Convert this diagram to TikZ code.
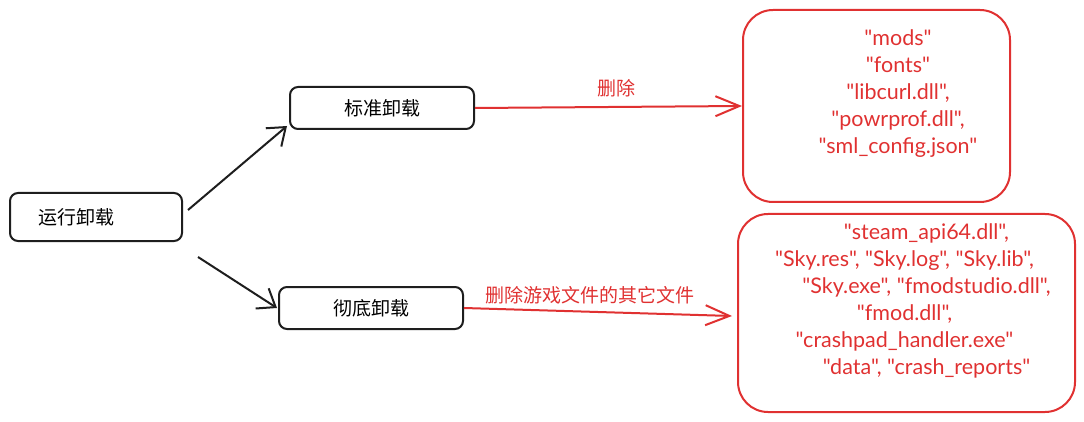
\documentclass[tikz,border=0pt]{standalone}
\usepackage{fontspec}
\setmainfont{Lato}
\newfontfamily\filefont{Lato}
\newfontfamily\cjk{Noto Sans CJK SC}
\usepackage{tikz}
\usetikzlibrary{arrows.meta,positioning,calc}
\definecolor{inkred}{HTML}{E03131}
\definecolor{inkblack}{HTML}{1E1E1E}
\newcommand{\fname}[1]{"#1"}

\begin{document}
\begin{tikzpicture}[x=1pt, y=1pt, line width=2pt]
    \tikzset{
        stepbox/.style={draw=inkblack, fill=white, rectangle, rounded corners=8pt, minimum height=42, align=center, font=\cjk\fontsize{19}{22}\selectfont},
        filebox/.style={draw=inkred, rectangle, rounded corners=30pt, text=inkred, font=\filefont\fontsize{21.5}{27}\selectfont},
        blackline/.style={draw=inkblack, -{Straight Barb[length=16pt, width=24pt, line width=2pt]}},
        redline/.style={draw=inkred, -{Straight Barb[length=24pt, width=20pt, line width=2pt]}},
        redlabel/.style={text=inkred, font=\cjk\fontsize{19}{22}\selectfont}
    }
    \useasboundingbox (0,0) rectangle (1084,-422);

    \node [stepbox, minimum width=172, minimum height=48, text width=116, inner xsep=28, align=left] (run) at (96,-217) {运行卸载};
    \node [stepbox, minimum width=184] (std) at (382,-108) {标准卸载};
    \node [stepbox, minimum width=184] (full) at (371,-308) {彻底卸载};

    \node [filebox, minimum width=267, minimum height=192] (keep1) at (876.5,-106)
        {\hspace*{43pt}\raisebox{0pt}[0pt][14pt]{\begin{tabular}{@{}c@{}}
            \fname{mods}\\
            \fname{fonts}\\
            \fname{libcurl.dll},\\
            \fname{powrprof.dll},\\
            \fname{sml\_config.json}
        \end{tabular}}};
    \node [filebox, minimum width=337, minimum height=198] (keep2) at (906.5,-313)
        {\hspace*{-4pt}\raisebox{0pt}[0pt][12pt]{\begin{tabular}{@{}c@{}}
            \hspace*{44pt}\fname{steam\_api64.dll},\\
            \fname{Sky.res}, \fname{Sky.log}, \fname{Sky.lib},\\
            \hspace*{44pt}\fname{Sky.exe}, \fname{fmodstudio.dll},\\
            \fname{fmod.dll},\\
            \fname{crashpad\_handler.exe}\\
            \hspace*{44pt}\fname{data}, \fname{crash\_reports}
        \end{tabular}}};

    \path [blackline] ([shift={(5,7)}]run.east) -- ([shift={(-2,4)}]std.south west);
    \path [blackline] ([shift={(15,-15)}]run.south east) -- ([xshift=-1]full.west);

    \path [redline] (std.east) -- node[redlabel, above=6pt, pos=0.53] {删除} (keep1.west);
    \path [redline] (full.east) -- node[redlabel, above=3pt, pos=0.47] {删除游戏文件的其它文件} ([shift={(-5,-3)}]keep2.west);
\end{tikzpicture}
\end{document}
